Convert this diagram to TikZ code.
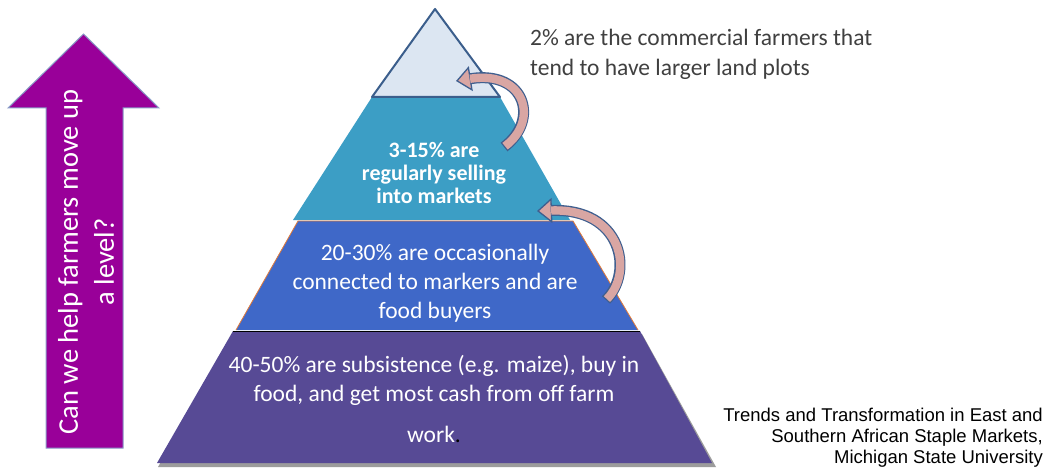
\documentclass[tikz,border=0pt]{standalone}
\usepackage{fontspec}
\setmainfont{Carlito}
\newfontfamily\citefont{Liberation Sans}
\usepackage{xcolor}
\usetikzlibrary{arrows.meta}

\definecolor{capcol}{HTML}{DCE6F2}
\definecolor{capline}{HTML}{3B5E8C}
\definecolor{upcol}{HTML}{3C9EC5}
\definecolor{midcol}{HTML}{3F68C8}
\definecolor{midline}{HTML}{E07A3A}
\definecolor{basecol}{HTML}{574A95}
\definecolor{baseline}{HTML}{7C7A9C}
\definecolor{shadowcol}{HTML}{9C9C9C}
\definecolor{askcol}{HTML}{990099}
\definecolor{askline}{HTML}{8A9CC8}
\definecolor{liftpink}{HTML}{D9A6A3}
\definecolor{liftline}{HTML}{3F5F8F}
\definecolor{notecol}{HTML}{404040}

\begin{document}
\begin{tikzpicture}[
  x=1pt, y=-1pt,
  lbl/.style={text=white, align=center, inner sep=0pt, font=\fontsize{23.5}{29}\selectfont},
  liftedge/.style={draw=liftline, line width=11pt, -{Triangle[width=25pt,length=15pt,fill=liftpink,line width=1.3pt]}},
  liftfill/.style={draw=liftpink, line width=8.4pt, shorten <=1.3pt, shorten >=14.2pt}
]
\fill[white] (0,0) rectangle (1048,468);
\useasboundingbox (0,0) rectangle (1048,468);

\fill[shadowcol] (158,467) -- (234,334) -- (642,334) -- (716,467) -- cycle;
\fill[basecol] (157,463) -- (233,331) -- (640,331) -- (712,463) -- cycle;
\draw[baseline, line width=1pt] (233,331) -- (640,331);
\fill[upcol] (293,220) -- (372,97) -- (500,97) -- (570,220) -- cycle;
\fill[midcol] (236,330) -- (298,221) -- (573,221) -- (638,330) -- cycle;
\draw[midline, line width=0.8pt] (236,330) -- (298,221) -- (573,221) -- (638,330);
\filldraw[fill=capcol, draw=capline, line width=2pt, line join=round] (435,9) -- (372,97) -- (500,97) -- cycle;

\filldraw[fill=askcol, draw=askline, line width=1pt] (46,448) -- (46,108) -- (8,108) -- (83.5,34) -- (159,108) -- (123,108) -- (123,448) -- cycle;

\node[lbl, font=\bfseries\fontsize{22}{23}\selectfont] (t2) at (434,173) {3-15\% are\\regularly selling\\into markets};
\node[lbl] (t3) at (435,283) {20-30\% are occasionally\\connected to markers and are\\food buyers};
\node[lbl] (t4) at (434,399) {40-50\% are subsistence (e.g. maize), buy in\\food, and get most cash from off farm\\[12pt]work\textcolor{black}{.}};
\node[text=notecol, align=left, anchor=west, inner sep=0pt, font=\fontsize{23.5}{30}\selectfont] (note) at (530,54) {2\% are the commercial farmers that\\tend to have larger land plots};
\node[align=right, anchor=east, inner sep=0pt, font=\citefont\fontsize{18.5}{21}\selectfont] (cite) at (1043,438) {Trends and Transformation in East and\\Southern African Staple Markets,\\Michigan State University};
\node[lbl, rotate=90, font=\fontsize{28.5}{36}\selectfont] (ask) at (86,262) {Can we help farmers move up\\a level?};

\coordinate (up1s) at (504,147);
\coordinate (up1e) at (456,81);
\coordinate (up2s) at (606,300);
\coordinate (up2e) at (537,211);
\draw[liftedge] (up1s) .. controls (540,120) and (525,70) .. (up1e);
\draw[liftfill] (up1s) .. controls (540,120) and (525,70) .. (up1e);
\draw[liftedge] (up2s) .. controls (634,272) and (622,208) .. (up2e);
\draw[liftfill] (up2s) .. controls (634,272) and (622,208) .. (up2e);
\end{tikzpicture}
\end{document}
